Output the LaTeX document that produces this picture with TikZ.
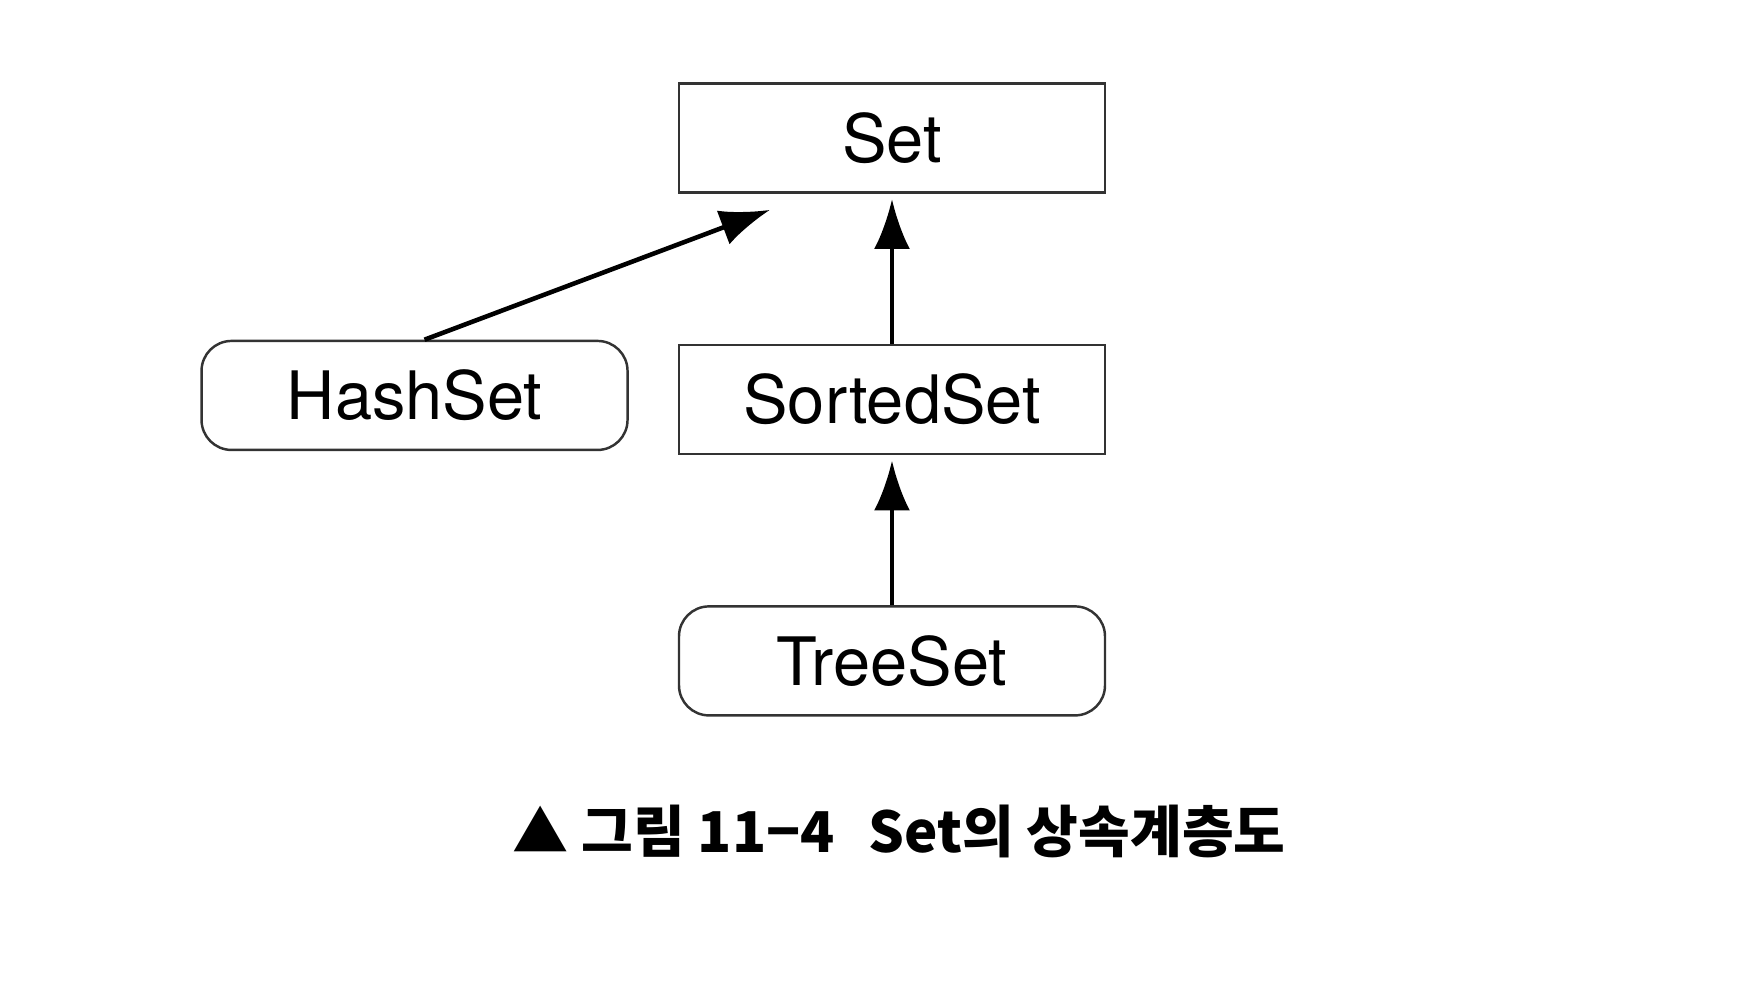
\documentclass[tikz,border=0pt]{standalone}
\usepackage{fontspec}
\setmainfont{TeX Gyre Heros}
\newfontfamily\krfont{Noto Sans CJK KR}
\usetikzlibrary{positioning,arrows.meta,calc}
\begin{document}
\begin{tikzpicture}[
    iface/.style={draw=black!80, line width=0.7pt, minimum width=4.26cm, minimum height=1.09cm, font=\fontsize{19}{22}\selectfont},
    impl/.style={iface, rounded corners=0.3cm},
    inherit/.style={-{Latex[length=5mm, width=3.6mm]}, line width=1.3pt, shorten >=1.5pt},
    node distance=1.5cm and 0.49cm]
                \useasboundingbox (0,0) rectangle (17.37,10);
                \node[iface] (set) at (8.92,8.62) {Set};
                \node[iface, below=of set] (sorted) {SortedSet};
                \node[impl, left=of sorted, yshift=0.04cm] (hash) {HashSet};
                \node[impl, below=of sorted] (tree) {TreeSet};
                \coordinate (settip) at (7.75,7.92);

                \draw[inherit] ($(hash.north)+(0.1,0)$) -- (settip);
                \draw[inherit] (sorted) -- (set);
                \draw[inherit] (tree) -- (sorted);

                \node[font=\krfont\bfseries\fontsize{16}{19}\selectfont] (caption) at (8.99,1.69) {▲ 그림 11−4\hspace{0.6em}Set의 상속계층도};
            \end{tikzpicture}
\end{document}
